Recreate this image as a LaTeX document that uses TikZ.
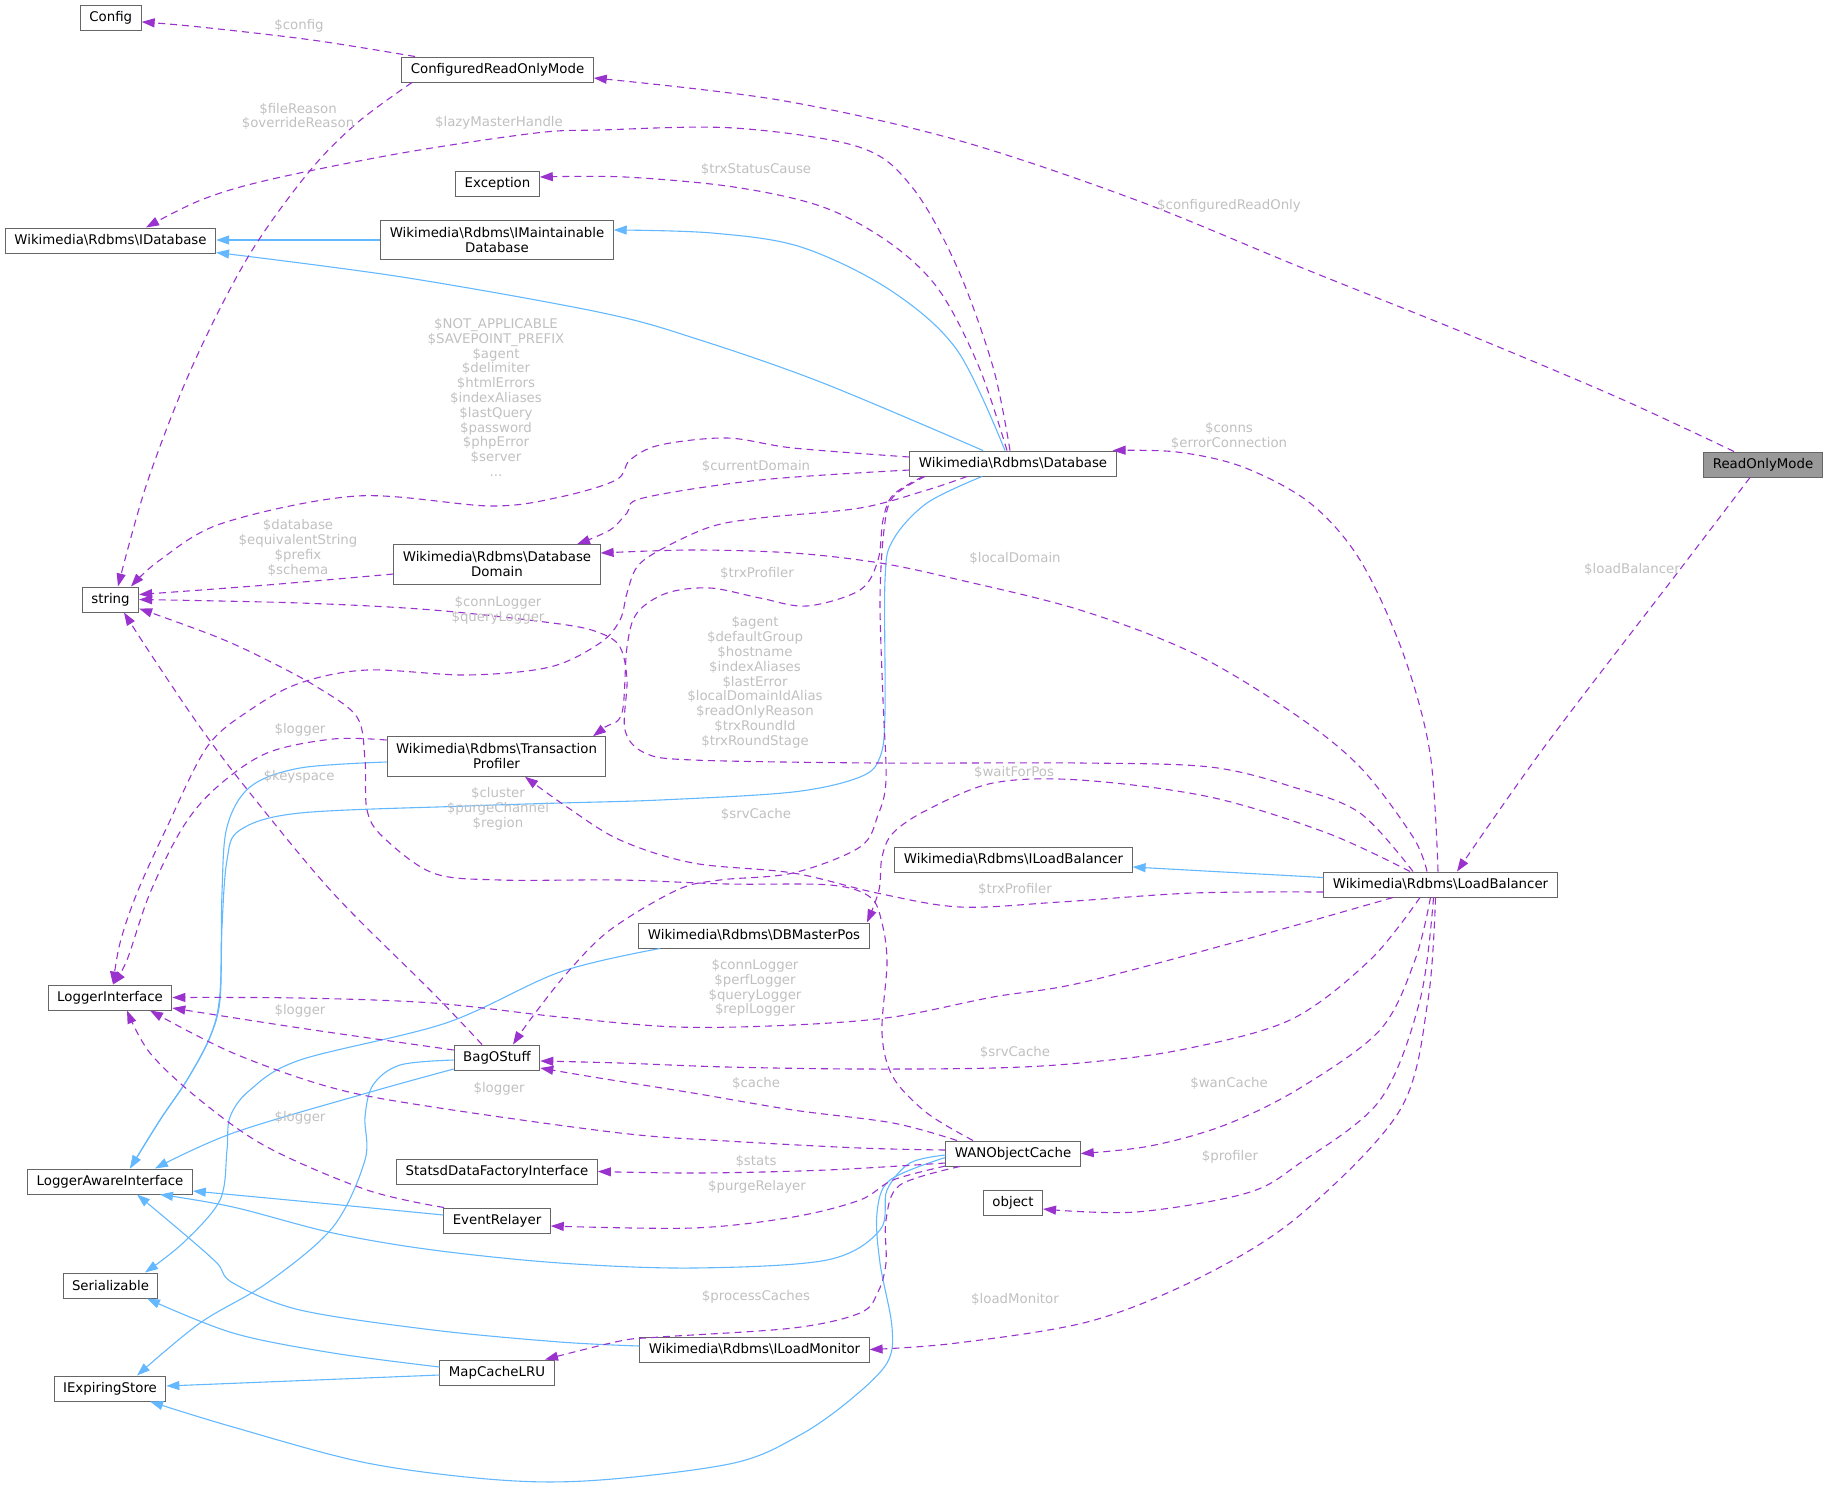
\documentclass[tikz,border=0pt]{standalone}
\usepackage{fontspec}
\setmainfont{DejaVu Sans}
\usetikzlibrary{arrows.meta}
\definecolor{edgepurple}{HTML}{9A32CD}
\definecolor{edgeblue}{HTML}{63B8FF}
\definecolor{lblgray}{HTML}{C0C0C0}
\definecolor{nodeborder}{HTML}{666666}
\definecolor{rofill}{HTML}{999999}
\newcommand\clsfont{\fontsize{13.33}{15}\selectfont}
\newcommand\lblfont{\fontsize{13.33}{14.8}\selectfont}
\tikzset{
  cls/.style={draw=nodeborder, fill=white, line width=1pt, inner xsep=9pt, inner ysep=2pt,
    minimum height=25pt, font=\clsfont, text=black, align=center},
  clstwo/.style={cls, minimum height=39.5pt},
  lbl/.style={font=\lblfont, text=lblgray, align=center, inner sep=0pt},
  dep/.style={draw=edgepurple, line width=1.1pt, dash pattern=on 7pt off 5pt,
    -{Triangle[length=13pt,width=9pt]}},
  inh/.style={draw=edgeblue, line width=1.1pt, -{Triangle[length=13pt,width=9pt]}},
  sm/.style={smooth, tension=0.55}
}
\begin{document}
\begin{tikzpicture}[x=1pt, y=-1pt]
\useasboundingbox (0,0) rectangle (1829,1489);
% ---------- classes ----------
\node[cls] (Config) at (110.75,17.9) {Config};
\node[cls] (CROM) at (497.5,69.5) {ConfiguredReadOnlyMode};
\node[cls] (Exception) at (497.5,183.5) {Exception};
\node[cls] (IDatabase) at (110.5,240.5) {Wikimedia\textbackslash Rdbms\textbackslash IDatabase};
\node[clstwo] (IMaint) at (497,240) {Wikimedia\textbackslash Rdbms\textbackslash IMaintainable\\Database};
\node[cls] (Database) at (1013,463.5) {Wikimedia\textbackslash Rdbms\textbackslash Database};
\node[cls, fill=rofill] (RO) at (1763,464.5) {ReadOnlyMode};
\node[clstwo] (DD) at (497,564.5) {Wikimedia\textbackslash Rdbms\textbackslash Database\\Domain};
\node[cls] (string) at (110.5,599.5) {string};
\node[clstwo] (TP) at (496.5,756.5) {Wikimedia\textbackslash Rdbms\textbackslash Transaction\\Profiler};
\node[cls] (ILB) at (1013.5,859.5) {Wikimedia\textbackslash Rdbms\textbackslash ILoadBalancer};
\node[cls] (LB) at (1440.5,884.5) {Wikimedia\textbackslash Rdbms\textbackslash LoadBalancer};
\node[cls] (DBMP) at (754,935.5) {Wikimedia\textbackslash Rdbms\textbackslash DBMasterPos};
\node[cls] (LI) at (110,997.5) {LoggerInterface};
\node[cls] (Bag) at (497,1057.5) {BagOStuff};
\node[cls] (WAN) at (1013,1153.5) {WANObjectCache};
\node[cls] (Statsd) at (497,1171.5) {StatsdDataFactoryInterface};
\node[cls] (object) at (1013,1203) {object};
\node[cls] (LAI) at (110,1181.5) {LoggerAwareInterface};
\node[cls] (ER) at (497,1220.5) {EventRelayer};
\node[cls] (Ser) at (110.5,1285.5) {Serializable};
\node[cls] (ILM) at (754.5,1349.5) {Wikimedia\textbackslash Rdbms\textbackslash ILoadMonitor};
\node[cls] (MCL) at (497,1372.5) {MapCacheLRU};
\node[cls] (IES) at (110,1388.5) {IExpiringStore};
% ---------- inheritance (blue) ----------
\draw[inh] (IMaint.west) -- (IMaint.west -| IDatabase.east);
\draw[inh] plot[sm] coordinates {([xshift=-8pt]Database.north) (957,350) (890,290) (801,247) (712,233) ([yshift=10pt]IMaint.east)};
\draw[inh] plot[sm] coordinates {([xshift=-30pt]Database.north) (823,383) (700,340) (603,313) (402,277) ([yshift=-12pt]IDatabase.east)};
\draw[inh] plot[sm] coordinates {([xshift=-31pt]Database.south) (927,503) (893,540) (885,580) (885,713) (880,757) (860,777) (793,792) (660,800) (560,803) (467,806) (300,813) (240,830) (227,860) (222,927) (220,1000) (210,1037) (187,1080) (160,1120) ([xshift=20pt]LAI.north)};
\draw[inh] plot[sm] coordinates {([yshift=-5.5pt]TP.west) (300,768) (250,787) (227,827) (222,893) (220,993) (210,1037) (187,1080) (160,1120) ([xshift=20pt]LAI.north)};
\draw[inh] ([yshift=7pt]LB.west) -- ([yshift=-7.5pt]ILB.east);
\draw[inh] plot[sm] coordinates {([yshift=-11.5pt]Bag.west) (367,1093) (233,1133) ([xshift=45pt]LAI.north)};
\draw[inh] plot[sm] coordinates {([yshift=-2.5pt]Bag.west) (400,1065) (373,1085) (365,1117) (365,1160) (333,1227) (267,1283) (200,1323) ([xshift=27pt]IES.north)};
\draw[inh] plot[sm] coordinates {([yshift=5.5pt]ER.west) (320,1203) ([yshift=-9.5pt]LAI.east)};
\draw[inh] plot[sm] coordinates {([yshift=-1.5pt]WAN.west) (910,1163) (887,1190) (880,1230) (827,1260) (693,1268) (560,1263) (433,1250) (333,1233) (233,1207) ([xshift=50pt]LAI.south)};
\draw[inh] plot[sm] coordinates {([yshift=-4pt]WAN.west) (890,1180) (877,1213) (880,1263) (892,1327) (887,1363) (850,1400) (800,1435) (734,1463) (600,1480) (500,1480) (367,1463) (233,1427) ([xshift=40pt]IES.south)};
\draw[inh] plot[sm] coordinates {([yshift=3.5pt]ILM.west) (560,1342) (433,1330) (300,1310) (233,1283) (217,1263) (183,1233) ([xshift=27pt]LAI.south)};
\draw[inh] plot[sm] coordinates {([xshift=-94pt]DBMP.south) (560,972) (446,1023) (300,1060) (250,1090) (230,1117) (227,1150) (220,1200) (183,1243) ([xshift=34.5pt]Ser.north)};
\draw[inh] plot[sm] coordinates {([yshift=5.5pt]MCL.west) (333,1353) (233,1333) ([xshift=36.5pt]Ser.south)};
\draw[inh] ([yshift=-2.5pt]MCL.west) -- ([yshift=2.5pt]IES.east);
% ---------- usage (purple dashed) ----------
\draw[dep] plot[sm] coordinates {([xshift=-82.5pt]CROM.north) (312,40) (200,27) ([yshift=-4pt]Config.east)};
\draw[dep] plot[sm] coordinates {([xshift=-85.5pt]CROM.south) (357,123) (308,173) (248,257) (192,367) (147,483) ([xshift=7.5pt]string.north)};
\draw[dep] plot[sm] coordinates {([xshift=-3pt]Database.north) (993,367) (957,267) (912,187) (859,147) (734,128) (600,130) (536,133) (402,153) (268,180) (201,200) ([xshift=35.5pt]IDatabase.north)};
\draw[dep] plot[sm] coordinates {([xshift=-6pt]Database.north) (979,367) (939,290) (890,243) (823,207) (734,187) (625,177) ([yshift=6.5pt]Exception.east)};
\draw[dep] plot[sm] coordinates {([xshift=-29pt]RO.north) (1619,398) (1472,336) (1300,267) (1136,200) (957,140) (779,100) ([yshift=-8.5pt]CROM.east)};
\draw[dep] plot[sm] coordinates {([xshift=-13pt]RO.south) (1678,572) (1545,746) ([xshift=16.5pt]LB.north)};
\draw[dep] plot[sm] coordinates {([xshift=-2.5pt]LB.north) (1430,753) (1403,653) (1360,560) (1310,503) (1243,467) (1177,452) ([xshift=-4pt]Database.north east)};
\draw[dep] plot[sm] coordinates {([yshift=6.5pt]Database.west) (793,448) (727,438) (660,445) (630,460) (616,480) (560,497) (491,506) (357,496) (223,523) (160,560) ([xshift=20.5pt]string.north)};
\draw[dep] plot[sm] coordinates {([yshift=-6.5pt]Database.west) (760,480) (643,498) (627,513) (610,530) ([xshift=80pt]DD.north)};
\draw[dep] plot[sm] coordinates {([xshift=-90pt]Database.south) (893,495) (883,520) (878,560) (860,590) (807,606) (760,598) (710,588) (667,593) (637,613) (627,647) (622,713) (605,727) ([xshift=96.5pt]TP.north)};
\draw[dep] plot[sm] coordinates {([xshift=-46pt]Database.south) (927,490) (860,508) (760,518) (710,527) (660,550) (637,567) (627,593) (620,620) (600,643) (550,667) (467,675) (367,670) (300,683) (250,710) (207,747) (167,827) (137,893) (120,943) ([xshift=3pt]LI.north)};
\draw[dep] plot[sm] coordinates {([xshift=-88pt]Database.south) (893,497) (884,530) (880,600) (883,700) (886,780) (878,815) (860,847) (793,873) (720,880) (677,890) (610,930) (567,973) (530,1020) ([xshift=16pt]Bag.north)};
\draw[dep] plot[sm] coordinates {([yshift=16.5pt]TP.west) (333,739) (267,753) (217,787) (183,827) (150,893) (127,960) ([xshift=3pt]LI.north)};
\draw[dep] plot[sm] coordinates {([yshift=-9.5pt]DD.west) (267,585) ([yshift=5pt]string.east)};
\draw[dep] plot[sm] coordinates {([xshift=-13.5pt]LB.north) (1413,837) (1360,767) (1293,713) (1193,653) (1080,610) (960,580) (880,563) (793,553) (693,550) ([yshift=11.5pt]DD.east)};
\draw[dep] plot[sm] coordinates {([xshift=-27.5pt]LB.north) (1360,813) (1293,787) (1210,767) (1080,763) (877,763) (693,760) (645,753) (625,730) (627,680) (620,647) (600,633) (560,624) (433,610) (300,603) (string.east)};
\draw[dep] plot[sm] coordinates {([xshift=-30.5pt]LB.north) (1327,833) (1210,797) (1080,780) (993,783) (927,810) (893,833) (882,857) (879,890) ([xshift=113pt]DBMP.north)};
\draw[dep] plot[sm] coordinates {([yshift=-7.5pt]LB.west) (1193,893) (1060,902) (960,907) (877,893) (793,873) (693,863) (620,840) (567,807) ([xshift=28.5pt]TP.south)};
\draw[dep] plot[sm] coordinates {([xshift=-47.5pt]LB.south) (1243,940) (1080,983) (993,997) (893,1017) (793,1025) (677,1027) (560,1017) (433,1003) (300,998) (LI.east)};
\draw[dep] plot[sm] coordinates {([xshift=-20.5pt]LB.south) (1370,960) (1290,1020) (1180,1050) (1080,1063) (993,1068) (860,1069) (727,1067) (620,1063) ([yshift=-3.5pt]Bag.east)};
\draw[dep] plot[sm] coordinates {([xshift=-10pt]LB.south) (1415,960) (1380,1030) (1300,1088) (1225,1125) (1150,1146) (WAN.east)};
\draw[dep] plot[sm] coordinates {([xshift=-7pt]LB.south) (1420,1000) (1380,1100) (1300,1163) (1247,1193) (1136,1212) ([yshift=-6pt]object.east)};
\draw[dep] plot[sm] coordinates {([xshift=-5pt]LB.south) (1428,1000) (1400,1110) (1300,1215) (1203,1276) (1091,1321) (957,1343) (ILM.east)};
\draw[dep] plot[sm] coordinates {([xshift=-40pt]WAN.north) (927,1113) (893,1077) (882,1033) (887,963) (882,923) (870,897) (830,885) (727,884) (620,880) (500,880) (433,873) (383,837) (367,810) (365,760) (357,717) (317,687) (267,660) (217,637) ([yshift=-9pt]string.east)};
\draw[dep] plot[sm] coordinates {([xshift=-56pt]WAN.north) (893,1123) (793,1110) (693,1093) (593,1077) ([yshift=-10.5pt]Bag.east)};
\draw[dep] plot[sm] coordinates {([yshift=3.5pt]WAN.west) (860,1148) (727,1141) (620,1133) (433,1107) (333,1088) (233,1053) ([xshift=40pt]LI.south)};
\draw[dep] plot[sm] coordinates {([yshift=-9.5pt]WAN.west) (827,1170) (700,1173) (Statsd.east)};
\draw[dep] plot[sm] coordinates {([yshift=-12.5pt]WAN.west) (893,1180) (860,1200) (793,1217) (693,1228) ([yshift=-5.5pt]ER.east)};
\draw[dep] plot[sm] coordinates {([xshift=-53pt]WAN.south) (900,1185) (886,1220) (886,1263) (878,1292) (860,1313) (793,1328) (660,1337) (620,1341) ([xshift=48pt]MCL.north)};
\draw[dep] plot[sm] coordinates {([xshift=-53pt]ER.north) (367,1190) (267,1147) (200,1100) (150,1053) ([xshift=17pt]LI.south)};
\draw[dep] plot[sm] coordinates {([yshift=7.5pt]Bag.west) (300,1028) ([yshift=-10.5pt]LI.east)};
\draw[dep] plot[sm] coordinates {([xshift=-15pt]Bag.north) (433,993) (333,893) (250,793) (200,727) (150,653) ([xshift=13.5pt]string.south)};
% ---------- labels ----------
\node[lbl] (l1) at (299,26) {\$config};
\node[lbl] (l2) at (298,116.5) {\$fileReason\\\$overrideReason};
\node[lbl] (l3) at (499,123) {\$lazyMasterHandle};
\node[lbl] (l4) at (756,169) {\$trxStatusCause};
\node[lbl] (l5) at (1229,206) {\$configuredReadOnly};
\node[lbl] (l6) at (496,397.5) {\$NOT\_APPLICABLE\\\$SAVEPOINT\_PREFIX\\\$agent\\\$delimiter\\\$htmlErrors\\\$indexAliases\\\$lastQuery\\\$password\\\$phpError\\\$server\\...};
\node[lbl] (l7) at (1229,436) {\$conns\\\$errorConnection};
\node[lbl] (l8) at (756,466) {\$currentDomain};
\node[lbl] (l9) at (298,548) {\$database\\\$equivalentString\\\$prefix\\\$schema};
\node[lbl] (l10) at (1015,558) {\$localDomain};
\node[lbl] (l11) at (1632,569) {\$loadBalancer};
\node[lbl] (l12) at (757,573) {\$trxProfiler};
\node[lbl] (l13) at (498,610.5) {\$connLogger\\\$queryLogger};
\node[lbl] (l14) at (755,682.5) {\$agent\\\$defaultGroup\\\$hostname\\\$indexAliases\\\$lastError\\\$localDomainIdAlias\\\$readOnlyReason\\\$trxRoundId\\\$trxRoundStage};
\node[lbl] (l15) at (300,730) {\$logger};
\node[lbl] (l16) at (1014,772) {\$waitForPos};
\node[lbl] (l17) at (299,777) {\$keyspace};
\node[lbl] (l18) at (498,809) {\$cluster\\\$purgeChannel\\\$region};
\node[lbl] (l19) at (756,814) {\$srvCache};
\node[lbl] (l20) at (1015,889) {\$trxProfiler};
\node[lbl] (l21) at (755,988) {\$connLogger\\\$perfLogger\\\$queryLogger\\\$replLogger};
\node[lbl] (l22) at (300,1011) {\$logger};
\node[lbl] (l23) at (1015,1052) {\$srvCache};
\node[lbl] (l24) at (756,1083) {\$cache};
\node[lbl] (l25) at (1229,1083) {\$wanCache};
\node[lbl] (l26) at (499,1089) {\$logger};
\node[lbl] (l27) at (300,1118) {\$logger};
\node[lbl] (l28) at (1230,1157) {\$profiler};
\node[lbl] (l29) at (756,1161) {\$stats};
\node[lbl] (l30) at (757,1187) {\$purgeRelayer};
\node[lbl] (l31) at (756,1297) {\$processCaches};
\node[lbl] (l32) at (1015,1299) {\$loadMonitor};
\end{tikzpicture}
\end{document}
